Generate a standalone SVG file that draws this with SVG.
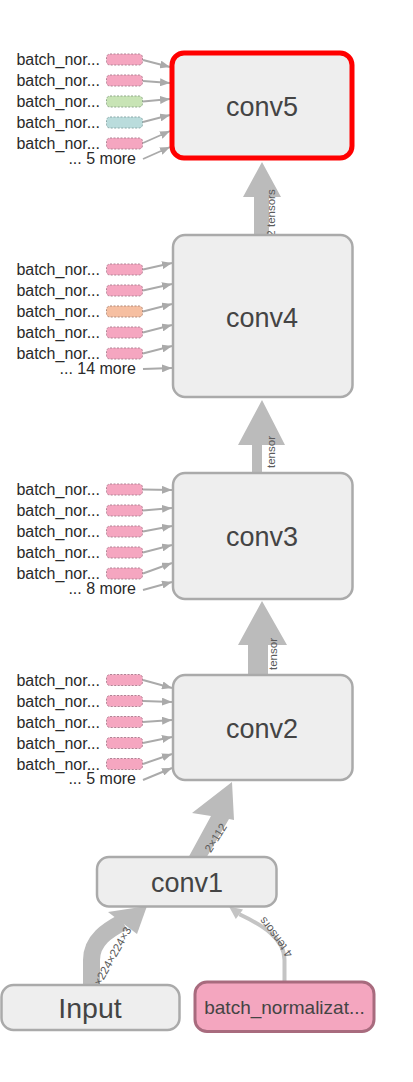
<svg xmlns="http://www.w3.org/2000/svg" width="413" height="1082" viewBox="0 0 413 1082">
<style>
text{font-family:"Liberation Sans",Arial,sans-serif}
.sm{font-size:16px;fill:#2a2a2a;text-anchor:end}
.big{font-size:27px;fill:#444;text-anchor:middle}
.el{font-size:11.5px;fill:#5a5a5a;text-anchor:middle}
.node{fill:#eeeeee;stroke:#aaaaaa;stroke-width:2.5}
.pk{fill:#f5a6c0;stroke:#b08394;stroke-width:1;stroke-dasharray:2 1.5}
.gr{fill:#c8e4b5;stroke:#8fa88a;stroke-width:1;stroke-dasharray:2 1.5}
.tl{fill:#badcdc;stroke:#8aa8a8;stroke-width:1;stroke-dasharray:2 1.5}
.or{fill:#f6bfa1;stroke:#b08a7a;stroke-width:1;stroke-dasharray:2 1.5}
.se{fill:none;stroke:#aaaaaa;stroke-width:1.9;marker-end:url(#ah)}
.te{fill:#bbbbbb}
</style>
<defs>
<marker id="ah" markerUnits="userSpaceOnUse" viewBox="0 0 10 8" refX="10" refY="4" markerWidth="10" markerHeight="8" orient="auto">
<path d="M0,0 L10,4 L0,8 Z" fill="#aaaaaa"/>
</marker>
</defs>

<g id="connectors">
<path class="te" d="M254,236 L254,197 L243,197 L262,162 L281,197 L269,197 L269,236 Z"/>
<text class="el" transform="translate(275,213) rotate(-90)">2 tensors</text>
<path class="te" d="M252,474 L252,445 L238,445 L262,400 L285,445 L262,445 L262,474 Z"/>
<text class="el" transform="translate(275,452) rotate(-90)">tensor</text>
<path class="te" d="M248,676 L248,645 L238,645 L262,601 L287,645 L268,645 L268,676 Z"/>
<text class="el" transform="translate(276.5,654) rotate(-90)">tensor</text>
<path class="te" d="M187,860 L205,860 L229,819 L234,820 L232,782 L192,813 L211,816 Z"/>
<text class="el" transform="translate(219,840) rotate(-58)">2×112</text>
<path d="M91.5,990 L91.5,960 C91.5,940 108,930 123,922" fill="none" stroke="#bbbbbb" stroke-width="17"/>
<path class="te" d="M108,912 L147,906 L137,934 Z"/>
<text class="el" transform="translate(116,958) rotate(-61)">×224×224×3</text>
<path d="M284.5,981 L284.5,960 C284.5,938 262,925 239.4,914.3" fill="none" stroke="#c4c4c4" stroke-width="4"/>
<path d="M229,906.5 L243,909.5 L235.8,919.1 Z" fill="#c4c4c4"/>
<text class="el" transform="translate(279,935) rotate(-127)">4 tensors</text>

<path class="se" d="M143,60 L170,67"/>
<path class="se" d="M143,81 L170,83"/>
<path class="se" d="M143,101.5 L170,99"/>
<path class="se" d="M143,122 L170,115"/>
<path class="se" d="M143,143 L170,131"/>
<path class="se" d="M143,159 L170,147"/>

<path class="se" d="M143,269.5 L172,263"/>
<path class="se" d="M143,290.5 L172,284"/>
<path class="se" d="M143,311.5 L172,304"/>
<path class="se" d="M143,332.5 L172,325"/>
<path class="se" d="M143,353.5 L172,346"/>
<path class="se" d="M143,369 L172,368"/>

<path class="se" d="M143,489.5 L172,490"/>
<path class="se" d="M143,510.5 L172,508"/>
<path class="se" d="M143,531.5 L172,526"/>
<path class="se" d="M143,552.5 L172,545"/>
<path class="se" d="M143,573.5 L172,563"/>
<path class="se" d="M143,590 L172,582"/>

<path class="se" d="M143,680 L172,688"/>
<path class="se" d="M143,701 L172,702"/>
<path class="se" d="M143,722 L172,720"/>
<path class="se" d="M143,743 L172,737"/>
<path class="se" d="M143,764 L172,754"/>
<path class="se" d="M143,780 L172,768"/>
</g>

<g id="conv5">
<rect x="172" y="53" width="180" height="105" rx="12" fill="#eeeeee" stroke="#ff0000" stroke-width="5"/>
<text class="big" x="262" y="116">conv5</text>
</g>
<g id="conv5-inputs">
<rect class="pk" x="106.5" y="54" width="36" height="11" rx="3.5"/>
<rect class="pk" x="106.5" y="75" width="36" height="11" rx="3.5"/>
<rect class="gr" x="106.5" y="96" width="36" height="11" rx="3.5"/>
<rect class="tl" x="106.5" y="117" width="36" height="11" rx="3.5"/>
<rect class="pk" x="106.5" y="138" width="36" height="11" rx="3.5"/>
<text class="sm" x="100" y="65">batch_nor...</text>
<text class="sm" x="100" y="86">batch_nor...</text>
<text class="sm" x="100" y="107">batch_nor...</text>
<text class="sm" x="100" y="128">batch_nor...</text>
<text class="sm" x="100" y="149">batch_nor...</text>
<text class="sm" x="136" y="164">... 5 more</text>
</g>

<g id="conv4">
<rect class="node" x="173" y="235" width="179.5" height="162" rx="12"/>
<text class="big" x="262" y="327">conv4</text>
</g>
<g id="conv4-inputs">
<rect class="pk" x="106.5" y="264" width="36" height="11" rx="3.5"/>
<rect class="pk" x="106.5" y="285" width="36" height="11" rx="3.5"/>
<rect class="or" x="106.5" y="306" width="36" height="11" rx="3.5"/>
<rect class="pk" x="106.5" y="327" width="36" height="11" rx="3.5"/>
<rect class="pk" x="106.5" y="348" width="36" height="11" rx="3.5"/>
<text class="sm" x="100" y="275">batch_nor...</text>
<text class="sm" x="100" y="296">batch_nor...</text>
<text class="sm" x="100" y="317">batch_nor...</text>
<text class="sm" x="100" y="338">batch_nor...</text>
<text class="sm" x="100" y="359">batch_nor...</text>
<text class="sm" x="136" y="374">... 14 more</text>
</g>

<g id="conv3">
<rect class="node" x="173" y="473" width="179.5" height="126" rx="12"/>
<text class="big" x="262" y="546">conv3</text>
</g>
<g id="conv3-inputs">
<rect class="pk" x="106.5" y="484" width="36" height="11" rx="3.5"/>
<rect class="pk" x="106.5" y="505" width="36" height="11" rx="3.5"/>
<rect class="pk" x="106.5" y="526" width="36" height="11" rx="3.5"/>
<rect class="pk" x="106.5" y="547" width="36" height="11" rx="3.5"/>
<rect class="pk" x="106.5" y="568" width="36" height="11" rx="3.5"/>
<text class="sm" x="100" y="495">batch_nor...</text>
<text class="sm" x="100" y="516">batch_nor...</text>
<text class="sm" x="100" y="537">batch_nor...</text>
<text class="sm" x="100" y="558">batch_nor...</text>
<text class="sm" x="100" y="579">batch_nor...</text>
<text class="sm" x="136" y="594">... 8 more</text>
</g>

<g id="conv2">
<rect class="node" x="173" y="675" width="179.5" height="105" rx="12"/>
<text class="big" x="262" y="738">conv2</text>
</g>
<g id="conv2-inputs">
<rect class="pk" x="106.5" y="674.5" width="36" height="11" rx="3.5"/>
<rect class="pk" x="106.5" y="695.5" width="36" height="11" rx="3.5"/>
<rect class="pk" x="106.5" y="716.5" width="36" height="11" rx="3.5"/>
<rect class="pk" x="106.5" y="737.5" width="36" height="11" rx="3.5"/>
<rect class="pk" x="106.5" y="758.5" width="36" height="11" rx="3.5"/>
<text class="sm" x="100" y="685.5">batch_nor...</text>
<text class="sm" x="100" y="706.5">batch_nor...</text>
<text class="sm" x="100" y="727.5">batch_nor...</text>
<text class="sm" x="100" y="748.5">batch_nor...</text>
<text class="sm" x="100" y="769.5">batch_nor...</text>
<text class="sm" x="136" y="784">... 5 more</text>
</g>

<g id="conv1">
<rect class="node" x="97" y="857" width="179.5" height="49.5" rx="12"/>
<text class="big" x="187" y="892">conv1</text>
</g>

<g id="input">
<rect class="node" x="1.5" y="985" width="178" height="45" rx="12"/>
<text class="big" x="90" y="1017.5" style="font-size:28.5px">Input</text>
</g>

<g id="batch_normalization">
<rect x="195" y="982" width="179" height="49.5" rx="12" fill="#f4a6bf" stroke="#a86b7e" stroke-width="3"/>
<text x="284.5" y="1014" style="font-size:19px;fill:#444;text-anchor:middle">batch_normalizat...</text>
</g>
</svg>
